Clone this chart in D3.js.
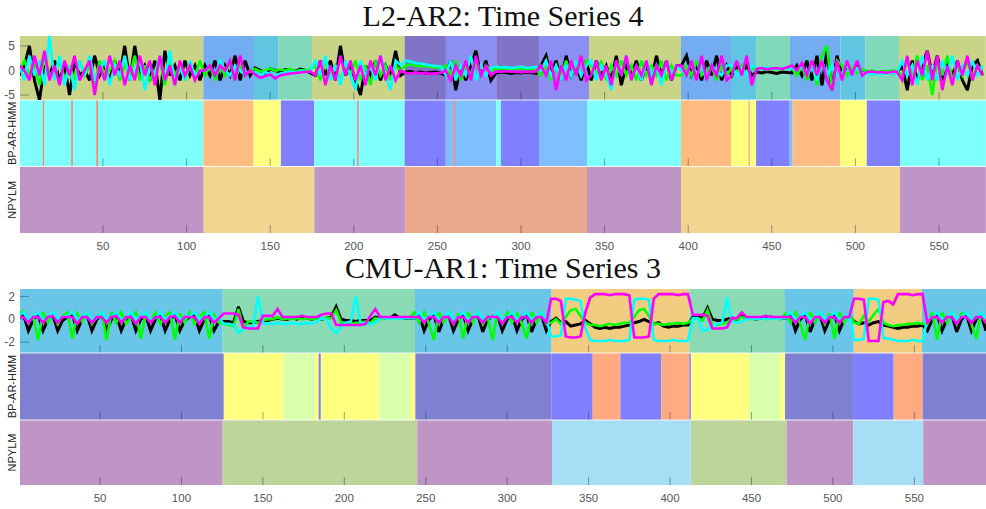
<!DOCTYPE html>
<html>
<head>
<meta charset="utf-8">
<script src="https://cdn.jsdelivr.net/npm/d3@7"></script>
<style>
  body { margin: 0; background: #fff; }
  svg { display: block; }
</style>
</head>
<body>
<svg id="chart" width="986" height="509"></svg>
<script>
(function(){
	"use strict";

	// ---------- top panel: L2-AR2, time series 4 (sampled every 3 steps) ----------
	var topStep = 3, topLength = 578;
	var topBlack = [
		-1,1,5,-2,-6,1,-1,2,-2,1,-5,2,-1,0,-2,3,-1,1,-2,2,-1,5,-2,5,-1,1,-2,2,-6,4,-1,1,-2,2,-1,1,-2,
		1,-1,2,-2,1,-1,3,-2,2,-1,
		0.5,0,-0.5,0.3,0,-0.3,0.2,0,-0.2,0.3,0,-0.5,
		-1,2,-1,2,-2,5,-1,1,-2,-5,1,-1,2,-2,1,-1,4,-1,
		-0.3,-0.2,-0.4,-0.3,-0.5,-0.4,-0.3,-0.6,
		-1,2,-4,1,-2,1,4,-1,2,-2,
		-0.5,-0.3,-0.4,-0.6,-0.4,-0.5,-0.3,-0.4,-0.6,
		1,3,-1,2,-2,3,-1,1,-2,2,
		-2,2,-1,1,-2,3,-3,1,-1,2,-2,1,-2,3,-1,2,-2,1,
		1,3,-1,1,-2,2,-1,3,-2,1,
		-1,1,-0.5,1,-1,
		-0.3,-0.5,-0.2,-0.4,-0.6,-0.3,-0.4,
		-0.5,1,-1,2,-2,3,-3,4,-4,3,
		-1,1,-0.5,1,-0.5,
		-0.3,-0.5,-0.4,-0.6,-0.3,-0.5,-0.4,
		1,-4,2,-2,1,4,-1,3,-2,1,-1,2,-2,-4,1,2,-1
	];
	var topGreen = [
		0,2,-1,1,-3,3,-1,0,2,-2,1,-2,2,-1,1,-3,2,-1,0,2,-2,1,-1,3,-2,1,-2,0,2,-3,2,-1,1,-2,1,-1,2,
		-1,1,-2,1,-1,2,-2,1,-1,0,
		0.3,-0.2,0,0.4,-0.1,0.2,0,0.3,-0.2,0.1,0,0.3,
		1,-2,2,-1,1,-2,1,-1,2,-2,1,-3,2,-1,1,-2,1,0,
		1,1.2,1,0.8,0.9,0.7,0.6,0.5,
		1,-1,2,-2,1,-1,2,-1,1,0,
		0.3,0.5,0.2,0.4,0.3,0.5,0.2,0.4,0.3,
		-1,1,-2,1,-1,2,-1,1,-1,2,
		1,-1,2,-2,1,-1,2,-1,1,-2,2,-1,1,-1,2,-2,1,-1,
		-1,1,-1,2,-1,0,1,-2,1,-1,
		0.5,-0.5,1,-1,0.5,
		0.2,0.4,0.1,0.3,0.2,0.4,0.3,
		0.5,-1,1,-2,2,-3,3,5,-4,2,
		1,-1,0.5,-0.5,0.3,
		-0.2,0,-0.3,-0.1,-0.2,0,-0.1,
		-1,2,-1,3,-2,1,-5,2,-1,3,-2,1,-1,2,-2,1,0
	];
	var topCyan = [
		1,-2,3,-1,2,-3,7,-2,3,-3,1,-4,2,-1,3,-2,0,2,-3,1,-1,3,-2,0,2,-4,1,-1,3,-2,4,-3,1,-2,2,-1,0,
		0,1,-1,2,0,-1,1,0,-1,0,
		-0.5,-1,-0.3,-0.8,-1.2,-0.6,-0.4,-0.2,-0.5,-0.1,-0.3,0,
		2,-1,3,-2,1,-3,2,-1,-4,2,-1,1,-2,3,-1,-4,2,1,
		2,1.8,1.5,1.4,1.2,1,0.9,0.8,
		-1,2,-2,1,-1,3,-2,1,-1,0.5,
		0.8,0.6,0.7,0.5,0.6,0.8,0.5,0.6,0.7,
		0,2,-1,1,-2,1,-1,2,-1,1,
		2,-2,1,-1,-4,2,-1,3,-2,1,-2,2,-1,1,-3,2,-1,1,
		0,-1,2,-1,1,-2,1,0,-1,1,
		1,-1,0.5,-1,1,
		0.5,0.3,0.6,0.4,0.3,0.5,0.4,
		0.5,0,1,-1,1,-2,2,-1,1,-1,
		-0.5,1,-1,0.5,-0.5,
		-0.5,-0.8,-0.6,-0.7,-0.5,-0.6,-0.4,
		2,-1,1,-3,3,-2,1,-2,2,-1,3,-2,1,-1,2,-1,1
	];
	var topMagenta = [
		1,0,-2,3,-1,4,-2,1,-3,2,-1,3,-2,0,2,-5,1,-2,3,-1,2,-3,1,-2,3,-1,2,-3,3,-2,1,-3,2,-1,1,-2,0,
		0,1,-1,1,0,2,-2,3,-1,0,
		-0.8,-1.5,-1.2,-0.8,-1.6,-1,-0.8,-0.6,-0.5,-0.4,-0.3,-0.2,
		-1,2,-3,1,-2,3,-1,2,-2,1,-3,2,-1,3,-2,1,-2,0,
		-0.5,-0.6,-0.4,-0.6,-0.5,-0.7,-0.6,-0.5,
		0,-2,1,-1,2,-2,3,-1,1,-1,
		-0.2,-0.3,-0.1,-0.3,-0.2,-0.4,-0.2,-0.3,-0.2,
		1,-1,2,-4,1,-2,2,-1,3,-2,
		-1,2,-2,1,-3,2,-1,3,-2,1,-1,2,-3,1,-1,2,-2,1,
		1,-1,2,-2,3,-2,1,-1,3,-2,
		-1,2,-1,3,-3,
		0.3,0.5,0.2,0.4,0.5,0.3,0.6,
		1,0,1.5,-1,2,-1,2,-2,-4,2,
		-2,2,-1,2,-1,
		-0.3,-0.2,-0.4,-0.3,-0.5,-0.2,-0.3,
		-2,3,-3,2,-1,4,-2,3,-4,1,-3,2,-1,3,-2,1,-1
	];
	var topYTicks = [-5, 0, 5];

	// segment starts (time index) and state of each segment
	var topTsStarts = [0,110,140.3,155,175,230.4,255.1,285.2,310.8,340.7,395.7,425.6,440.6,460.8,491,506,526.1];
	var topTsStates = ["olive","sky","teal","mint","olive","dpurple","peri","dpurple","peri","olive","sky","teal","mint","sky","teal","mint","olive"];
	var topBpStarts = [0,14,15,31,32,46,47,110,140,156.4,176.4,202,203,230.4,255,259.5,260.5,285.2,288,310.8,339.5,395.7,425.6,436,437,440.6,460.3,462.5,490.8,506.8,526.7];
	var topBpStates = ["cyan","red","cyan","red","cyan","red","cyan","orange","yellow","blue","cyan","red","cyan","blue","lblue","red","lblue","cyan","blue","lblue","cyan","orange","yellow","orange","yellow","blue","lblue","orange","yellow","blue","cyan"];
	var topNpStarts = [0,110.2,176.4,230.8,339.5,395.7,526.7];
	var topNpStates = ["purple","tan","purple","salmon","purple","tan","purple"];

	// ---------- bottom panel: CMU-AR1, time series 3 (sampled every 3 steps) ----------
	var botStep = 3, botLength = 594;
	var botBlack = [
		0.2,0.4,-1,0,0.4,-1,0,0.4,-1,-0.1,0.2,0.4,-1,0,0.4,-1,0,0.4,-1,0,0.4,-1,0,0.4,-1,0,0.4,-1,0,0.4,-1,0,0.4,-1,-0.1,0.2,0.4,-1,0,0.4,-1,-0.2,
		-0.2,-0.2,-0.3,1.1,-0.2,-0.3,-0.3,-0.2,-0.1,-0.1,0,0.1,0,0,0.1,0,0.2,0.1,0,0.1,0,0.1,0.2,1.1,0,-0.1,-0.1,-0.2,-0.1,-0.1,-0.1,0.2,0.1,0.1,0.1,0.4,0.1,0.1,0.1,
		0.1,0.4,-1,0,0.4,-1.1,0,0.4,-1,0,0.4,-1,0,0.4,-1.1,0,0.2,0.4,-1,0,0.4,-1,0,0.4,-1.1,0,0.4,-1,
		-0.2,0.1,-0.3,-0.2,-0.6,-0.5,-0.4,-0.1,-0.4,-0.7,-0.8,-0.7,-0.8,-0.7,-0.7,-0.6,-0.5,-0.3,-0.2,0,-0.2,-0.4,-0.3,-0.6,-0.7,-0.6,-0.6,-0.5,-0.5,
		0.2,0.2,0.1,1.0,0,-0.1,-0.1,0,0.1,0,0.3,0.1,0.1,0,0.1,0.1,0.2,0.1,0.1,
		0.1,0.4,-1,0,0.4,-1.1,0,0.4,-1,0,0.4,-1,0,0.3,
		-0.2,-0.4,-0.3,-0.5,-0.3,-0.2,-0.5,-0.6,-0.7,-0.8,-0.7,-0.7,-0.6,-0.6,-0.5,
		-1,0,0.4,-1,0,0.4,-1.1,0,0.4,-1,0,0.4,-1
	];
	var botGreen = [
		0.5,0.7,-0.3,0.2,-1.8,0.6,-0.3,0.6,-0.4,0.3,0.6,-1.7,0.5,-0.2,0.6,-0.4,0.2,0.6,-1.8,0.6,-0.3,0.6,-0.4,0.2,0.6,-1.7,0.5,-0.2,0.6,-0.4,0.3,0.6,-1.8,0.5,-0.3,0.6,-0.4,0.2,0.6,-1.7,0.4,-0.3,
		-0.4,-0.5,-0.6,0.9,-0.8,-0.2,-0.2,-0.3,-0.1,0,0,0.2,0,0.1,0,0.1,0,0.1,0,0.1,0,0.1,0.1,0.8,-0.3,-0.3,-0.4,-0.3,-0.3,-0.2,-0.3,0.1,0,0.1,0.1,0.1,0.1,0.2,0.1,
		0.6,-0.3,0.6,-0.4,-1.8,0.6,-0.3,0.6,-0.4,0.5,-1.7,0.6,-0.3,0.6,-0.4,0.2,-1.8,0.6,-0.4,0.6,-0.3,0.5,-0.4,-1.7,0.6,-0.3,0.6,-0.4,
		-0.3,0,-0.4,0.2,0.8,0.9,0.3,-0.3,-0.5,-0.5,-0.6,-0.5,-0.4,-0.5,-0.4,-0.3,-0.3,0.2,0.8,0.9,0.3,-0.4,-0.4,-0.5,-0.4,-0.4,-0.3,-0.4,-0.3,
		0,0.1,-0.1,0.8,-0.5,-0.5,-0.4,-0.3,0.1,0,0.2,0.1,0,0.1,0.1,0,0.1,0.1,0,
		0.5,-0.3,0.6,-0.4,-1.8,0.6,-0.3,0.6,-0.4,0.5,-1.7,0.6,-0.3,0.5,
		-0.3,-0.4,0.3,-0.2,0.4,0.9,-0.3,-0.5,-0.6,-0.5,-0.5,-0.4,-0.4,-0.3,-0.4,
		-0.4,0.6,-1.8,0.6,-0.3,0.6,-0.4,0.5,0.6,-0.4,-1.7,0.6,-0.3
	];
	var botCyan = [
		0.3,0.6,0,0.2,0.6,0,0.1,0.6,0,0.2,0.3,0.6,0,0.2,0.6,0,0.1,0.6,0,0.2,0.6,0,0.1,0.6,0,0.2,0.6,0,0.1,0.6,0,0.2,0.6,0,0.1,0.3,0.6,0,0.2,0.6,0,0.1,
		-0.4,-0.4,-0.5,-1.2,-0.8,-0.7,-0.6,2.0,-0.3,-0.4,-0.4,-0.3,-0.4,-0.4,-0.3,-0.4,-0.4,-0.3,-0.4,-0.2,0.1,0,-0.8,-1.2,-0.6,-0.3,-0.2,2.0,-0.3,-0.4,-0.4,-0.3,0.1,0.1,0,0.1,0,0.1,0.1,
		0.1,0.6,0,0.2,0.6,0,0.1,0.6,0,0.2,0.6,0,0.1,0.6,0,0.2,0.1,0.6,0,0.2,0.6,0,0.1,0.6,0,0.2,0.6,0,
		-1.5,-1.5,-1.4,1.8,1.8,1.7,1.6,-0.8,-1.8,-1.9,-1.9,-1.9,-1.8,-1.9,-1.9,-1.9,-1.8,1.7,1.8,1.8,1.7,-1.8,-1.9,-1.9,-1.9,-1.8,-1.9,-1.9,-1.9,
		0.1,0.1,-1.0,-0.9,-0.6,-0.4,-0.3,1.9,-0.2,-0.3,-0.2,0,0.1,0,0.1,0,0.1,0,0.1,
		0.1,0.6,0,0.2,0.6,0,0.1,0.6,0,0.2,0.6,0,0.1,0.5,
		-1.8,-1.8,-1.7,1.8,1.8,1.7,-1.6,-1.7,-1.8,-1.9,-1.9,-1.9,-1.8,-1.9,-1.9,
		0,0.2,0.6,0,0.1,0.6,0,0.2,0.6,0,0.1,0.6,0
	];
	var botMagenta = [
		0.2,0.2,-0.3,0.2,0.2,-0.3,0.2,0.3,-0.3,0.2,0.2,0.2,-0.4,0.2,0.2,-0.3,0.2,0.2,-0.3,0.2,0.3,-0.3,0.2,0.2,-0.4,0.2,0.2,-0.3,0.2,0.2,-0.3,0.2,0.3,-0.3,0.2,0.2,0.2,-0.4,0.2,0.2,-0.3,0.1,
		0.5,0.5,0.5,0.4,-0.7,-0.8,-0.8,-0.8,0.3,0.3,0.3,0.9,0.2,0.2,0.2,0.2,0.3,0.2,0.2,0.2,0.4,0.5,0.5,-0.5,-0.5,-0.5,-0.5,-0.5,-0.5,-0.4,0.3,0.9,0.2,0.2,0.2,0.2,0.2,0.2,0.2,
		0.2,0.2,-0.3,0.2,0.2,-0.3,0.2,0.2,-0.4,0.2,0.2,-0.3,0.2,0.2,-0.3,0.2,0.2,0.2,-0.4,0.2,0.2,-0.3,0.2,0.2,-0.3,0.2,0.2,-0.3,
		1.8,1.8,1.6,-1.5,-1.6,-1.6,-1.5,0.6,1.9,2.2,2.2,2.2,2.1,2.2,2.2,2.2,2.1,-1.6,-1.6,-1.6,-1.5,1.8,2.2,2.2,2.2,2.2,2.1,2.2,2.2,
		0.4,0.4,0.4,0.3,-0.8,-0.8,-0.8,-0.7,0.1,0.1,0.6,0.2,0.2,0.2,0.2,0.3,0.2,0.2,0.2,
		0.2,0.2,-0.3,0.2,0.2,-0.4,0.2,0.2,-0.3,0.2,0.2,-0.3,0.2,0.2,
		1.8,1.8,1.7,-1.9,-1.9,-1.9,1.5,1.6,1.3,2.2,2.2,2.2,2.1,2.2,2.2,
		-0.3,0.2,0.2,-0.3,0.2,0.2,-0.4,0.2,0.2,-0.3,0.2,0.2,-0.3
	];
	var botYTicks = [-2, 0, 2];

	var botTsStarts = [0,125.3,243.4,327.3,411.8,470.6,512.8,554.7];
	var botTsStates = ["bsky","bgreen","bsky","borange","bgreen","bsky","borange","bsky"];
	var botBpStarts = [0,126,162.8,181.8,184.2,185.6,221.5,240.5,243.6,327.3,352.5,369.5,394.5,411.8,412.8,448.5,467.5,470.6,512.3,537.3,555.1];
	var botBpStates = ["slate","yellow","lgreen","yellow","blue","yellow","lgreen","yellow","slate","blue","orange2","blue","orange2","blue","yellow","lgreen","yellow","slate","blue","orange2","slate"];
	var botNpStarts = [0,125.3,244.8,327.5,412.7,471.6,512.5,555.5];
	var botNpStates = ["purple","bolive","purple","lblue2","bolive","purple","lblue2","purple"];

	var xTicks = [50,100,150,200,250,300,350,400,450,500,550];
	var rowNames = ["BP-AR-HMM", "NPYLM"];

	// ---------- styles ----------
	var colors = {
		olive: "#c9d487", sky: "#74acf2", teal: "#5fc5e1", mint: "#80d9b9", dpurple: "#8074c6", peri: "#8b8ff2",
		cyan: "#80ffff", orange: "#ffbb80", yellow: "#ffff80", blue: "#8080ff", lblue: "#80bfff", red: "#f4806f",
		purple: "#be95c5", tan: "#f2d591", salmon: "#eba98b",
		bsky: "#69c6e8", bgreen: "#8adbb3", borange: "#f2cc80",
		slate: "#7f80d2", lgreen: "#d8ffab", orange2: "#ffaa80",
		bolive: "#bdd49b", lblue2: "#a6def6"
	};
	var lineColors = ["#000000", "#00ff00", "#00ffff", "#ff00ff"];
	var lineWidths = [3, 2.6, 2.6, 2.6];

	var svg = d3.select("#chart");
	var plotLeft = 20, plotRight = 986;

	var panels = [
		{ id: "top", title: "L2-AR2: Time Series 4", titleY: 26, length: topLength, step: topStep,
			xRange: [19.4, 985.8], rows: [[36, 100], [100, 166.5], [166.5, 233]], yDomain: [-6, 7],
			yTicks: topYTicks, labelY: 250,
			series: [topBlack, topGreen, topCyan, topMagenta],
			segs: [[topTsStarts, topTsStates], [topBpStarts, topBpStates], [topNpStarts, topNpStates]] },
		{ id: "bot", title: "CMU-AR1: Time Series 3", titleY: 278, length: botLength, step: botStep,
			xRange: [18.6, 986], rows: [[289, 353], [353, 420], [420, 485]], yDomain: [-2.95, 2.65],
			yTicks: botYTicks, labelY: 502,
			series: [botBlack, botGreen, botCyan, botMagenta],
			segs: [[botTsStarts, botTsStates], [botBpStarts, botBpStates], [botNpStarts, botNpStates]] }
	];

	panels.forEach(drawPanel);

	function toSegments(starts, states, end) {
		return starts.map(function(s, i) {
			return { start: s, end: i < starts.length - 1 ? starts[i + 1] : end, state: states[i] };
		});
	}

	function drawPanel(p) {
		var g = svg.append("g");
		var x = d3.scaleLinear().domain([0, p.length]).range(p.xRange);
		var y = d3.scaleLinear().domain(p.yDomain).range([p.rows[0][1], p.rows[0][0]]);

		g.append("text")
			.attr("x", (plotLeft + plotRight) / 2)
			.attr("y", p.titleY)
			.attr("text-anchor", "middle")
			.style("font-family", "'Liberation Serif', 'Times New Roman', serif")
			.style("font-size", "30px")
			.style("fill", "#111")
			.text(p.title);

		// coloured segment bands for each of the three rows
		p.segs.forEach(function(sg, r) {
			var row = p.rows[r];
			g.append("g").selectAll("rect")
				.data(toSegments(sg[0], sg[1], p.length))
			  .enter().append("rect")
				.attr("x", function(d) { return Math.max(plotLeft, x(d.start)); })
				.attr("width", function(d) { return Math.min(plotRight, x(d.end)) - Math.max(plotLeft, x(d.start)); })
				.attr("y", row[0])
				.attr("height", row[1] - row[0])
				.attr("fill", function(d) { return colors[d.state]; });

			// small inward ticks along the bottom of every row
			g.append("g").selectAll("line")
				.data(xTicks)
			  .enter().append("line")
				.attr("x1", function(d) { return x(d); })
				.attr("x2", function(d) { return x(d); })
				.attr("y1", row[1])
				.attr("y2", row[1] - 8)
				.attr("stroke", "rgba(20,20,70,0.4)")
				.attr("stroke-width", 1);
		});

		// thin light separators between rows
		[p.rows[0][1], p.rows[1][1]].forEach(function(yy) {
			g.append("line")
				.attr("x1", plotLeft).attr("x2", plotRight)
				.attr("y1", yy).attr("y2", yy)
				.attr("stroke", "rgba(255,255,255,0.85)")
				.attr("stroke-width", 1.2);
		});

		// y ticks of the time-series row
		g.append("g").selectAll("line")
			.data(p.yTicks)
		  .enter().append("line")
			.attr("x1", plotLeft).attr("x2", plotLeft + 9)
			.attr("y1", function(d) { return y(d); })
			.attr("y2", function(d) { return y(d); })
			.attr("stroke", "rgba(20,20,70,0.4)");
		g.append("g").selectAll("text")
			.data(p.yTicks)
		  .enter().append("text")
			.attr("x", 15)
			.attr("y", function(d) { return y(d); })
			.attr("dy", "0.35em")
			.attr("text-anchor", "end")
			.style("font-family", "'Liberation Sans', Arial, sans-serif")
			.style("font-size", "12px")
			.style("fill", "#555")
			.text(function(d) { return d; });

		// the four time series
		var clipId = "clip-" + p.id;
		svg.append("clipPath").attr("id", clipId)
			.append("rect")
			.attr("x", plotLeft).attr("y", p.rows[0][0])
			.attr("width", plotRight - plotLeft).attr("height", p.rows[0][1] - p.rows[0][0]);

		var line = d3.line()
			.x(function(d, i) { return x(i * p.step); })
			.y(function(d) { return y(d); });

		var lines = g.append("g").attr("clip-path", "url(#" + clipId + ")");
		p.series.forEach(function(s, i) {
			lines.append("path")
				.datum(s)
				.attr("d", line)
				.attr("fill", "none")
				.attr("stroke", lineColors[i])
				.attr("stroke-width", lineWidths[i])
				.attr("stroke-linejoin", "miter")
				.attr("stroke-miterlimit", 3);
		});

		// row names
		rowNames.forEach(function(name, i) {
			var row = p.rows[i + 1];
			g.append("text")
				.attr("transform", "translate(16," + ((row[0] + row[1]) / 2) + ") rotate(-90)")
				.attr("text-anchor", "middle")
				.style("font-family", "'Liberation Sans', Arial, sans-serif")
				.style("font-size", "11px")
				.style("fill", "#222")
				.text(name);
		});

		// x tick labels
		g.append("g").selectAll("text")
			.data(xTicks)
		  .enter().append("text")
			.attr("x", function(d) { return x(d); })
			.attr("y", p.labelY)
			.attr("text-anchor", "middle")
			.style("font-family", "'Liberation Sans', Arial, sans-serif")
			.style("font-size", "11.5px")
			.style("fill", "#555")
			.text(function(d) { return d; });
	}

})();
</script>
</body>
</html>
